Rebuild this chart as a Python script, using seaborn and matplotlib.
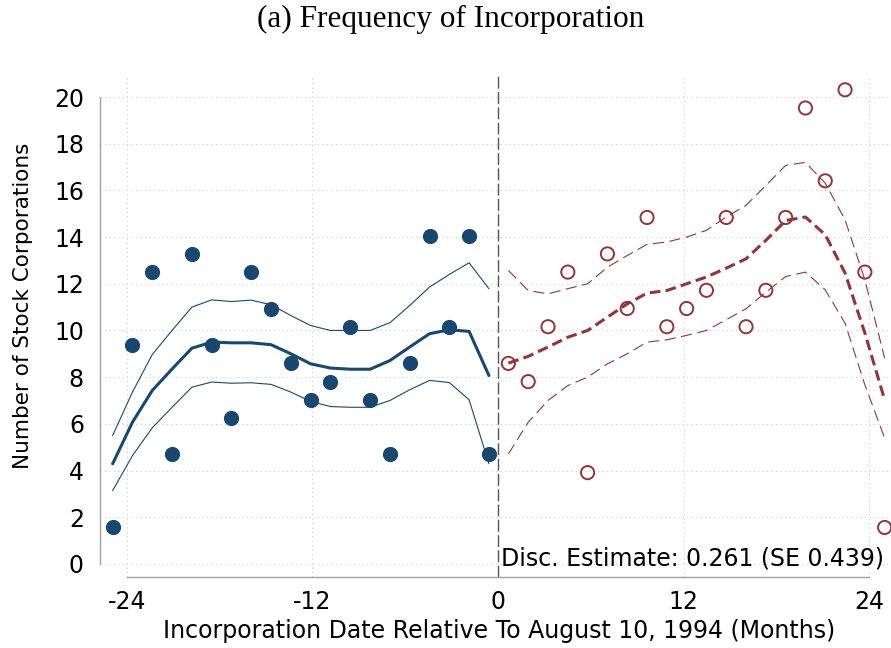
import pandas as pd
import matplotlib
matplotlib.use("Agg")
import matplotlib.pyplot as plt
import seaborn as sns

# binned counts, before / after the cutoff (months relative to Aug 10, 1994)
left_x = [-24.91, -23.63, -22.35, -21.07, -19.79, -18.51, -17.23, -15.95, -14.67, -13.39,
          -12.11, -10.83, -9.55, -8.27, -6.99, -5.71, -4.43, -3.15, -1.87, -0.59]
left_y = [1.56, 9.38, 12.5, 4.69, 13.28, 9.38, 6.25, 12.5, 10.94, 8.59,
          7.03, 7.81, 10.16, 7.03, 4.69, 8.59, 14.06, 10.16, 14.06, 4.69]
left_fit = [4.29, 6.07, 7.43, 8.35, 9.24, 9.5, 9.47, 9.47, 9.39, 9.0,
            8.57, 8.39, 8.34, 8.34, 8.71, 9.29, 9.86, 10.03, 9.96, 8.07]
left_hi = [5.5, 7.36, 8.97, 10.0, 11.0, 11.31, 11.24, 11.3, 11.1, 10.64,
           10.21, 10.0, 10.0, 10.0, 10.33, 11.07, 11.86, 12.4, 12.9, 11.79]
left_lo = [3.14, 4.64, 5.83, 6.71, 7.57, 7.79, 7.74, 7.76, 7.69, 7.36,
           6.96, 6.74, 6.71, 6.71, 7.0, 7.46, 7.86, 7.77, 7.03, 4.29]

right_x = [0.67, 1.95, 3.23, 4.51, 5.79, 7.07, 8.35, 9.63, 10.91, 12.19,
           13.47, 14.75, 16.03, 17.31, 18.59, 19.87, 21.15, 22.43, 23.71, 24.99]
right_y = [8.59, 7.81, 10.16, 12.5, 3.91, 13.28, 10.94, 14.84, 10.16, 10.94,
           11.72, 14.84, 10.16, 11.72, 14.84, 19.53, 16.41, 20.31, 12.5, 1.56]
right_fit = [8.6, 8.89, 9.29, 9.71, 10.0, 10.57, 11.14, 11.6, 11.71, 12.0,
             12.29, 12.67, 13.07, 13.86, 14.71, 14.86, 14.1, 12.46, 9.89, 7.03]
right_hi = [12.57, 11.71, 11.57, 11.79, 12.0, 12.71, 13.21, 13.69, 13.79, 14.0,
            14.29, 14.86, 15.36, 16.21, 17.07, 17.2, 16.31, 14.74, 12.17, 8.81]
right_lo = [4.71, 6.07, 7.0, 7.64, 8.0, 8.57, 9.0, 9.5, 9.6, 9.79,
            10.0, 10.46, 10.93, 11.64, 12.31, 12.5, 11.74, 10.31, 7.67, 5.39]

x_ticks = [-24, -12, 0, 12, 24]
y_ticks = list(range(0, 21, 2))

navy = "#1a476f"
maroon = "#90353b"

sns.set_style("white")
plt.rcParams["font.family"] = ["DejaVu Sans"]
plt.rcParams["text.color"] = "black"
plt.rcParams["axes.labelcolor"] = "black"

left = pd.DataFrame({"x": left_x, "y": left_y, "fit": left_fit, "hi": left_hi, "lo": left_lo})
right = pd.DataFrame({"x": right_x, "y": right_y, "fit": right_fit, "hi": right_hi, "lo": right_lo})

fig = plt.figure(figsize=(8.91, 6.48), dpi=100)
ax = fig.add_axes([0.1122, 0.1096, 0.8878, 0.7731])

ax.grid(True, linestyle=(0, (1, 3)), color="#cccccc", lw=0.8)
ax.axvline(0, color="#555555", lw=1.0, linestyle=(0, (8.5, 2.5)), zorder=1)

# left side: solid fit and bands, filled dots
sns.lineplot(data=left, x="x", y="hi", color=navy, lw=0.8, errorbar=None, ax=ax)
sns.lineplot(data=left, x="x", y="lo", color=navy, lw=0.8, errorbar=None, ax=ax)
sns.lineplot(data=left, x="x", y="fit", color=navy, lw=2.2, errorbar=None, ax=ax)
sns.scatterplot(data=left, x="x", y="y", color=navy, s=120, linewidth=0, ax=ax, zorder=3)

# right side: dashed fit and bands, hollow circles
sns.lineplot(data=right, x="x", y="hi", color=maroon, lw=0.8, linestyle=(0, (10, 5)), errorbar=None, ax=ax)
sns.lineplot(data=right, x="x", y="lo", color=maroon, lw=0.8, linestyle=(0, (10, 5)), errorbar=None, ax=ax)
sns.lineplot(data=right, x="x", y="fit", color=maroon, lw=2.2, linestyle=(0, (3.5, 1.7)), errorbar=None, ax=ax)
sns.scatterplot(data=right, x="x", y="y", color=maroon, facecolor="none", edgecolor=maroon,
                s=90, linewidth=1.4, ax=ax, zorder=3)

ax.set_xlim(-25.73, 25.4)
ax.set_ylim(-0.56, 20.9)
ax.set_xticks(x_ticks)
ax.set_yticks(y_ticks)
ax.set_xticklabels([str(t) for t in x_ticks])
ax.set_yticklabels([str(t) for t in y_ticks])

for s in ["top", "right"]:
    ax.spines[s].set_visible(False)
ax.spines["left"].set_bounds(0, 20)
ax.spines["bottom"].set_bounds(-24, 24)
for s in ["left", "bottom"]:
    ax.spines[s].set_color("#a0a0a0")
    ax.spines[s].set_linewidth(1.0)
ax.tick_params(axis="both", direction="out", length=5.5, width=1.0, color="#a0a0a0",
               labelsize=17, labelcolor="black")
ax.tick_params(axis="y", pad=6)
ax.tick_params(axis="x", pad=4)

ax.set_xlabel("Incorporation Date Relative To August 10, 1994 (Months)", fontsize=17, color="black")
ax.set_ylabel("Number of Stock Corporations", fontsize=15.5, color="black")
ax.xaxis.set_label_coords(0.504, -0.084)
ax.yaxis.set_label_coords(-0.085, 0.541)

ax.text(0.991, 0.036, "Disc. Estimate: 0.261 (SE 0.439)", transform=ax.transAxes,
        ha="right", va="center", fontsize=17, color="black", zorder=4)

fig.text(0.506, 1 - 27.5 / 648, "(a) Frequency of Incorporation", ha="center", va="baseline",
         fontsize=22.5, color="black", family=["Liberation Serif", "DejaVu Serif"])

fig.savefig("out.png", dpi=100)
